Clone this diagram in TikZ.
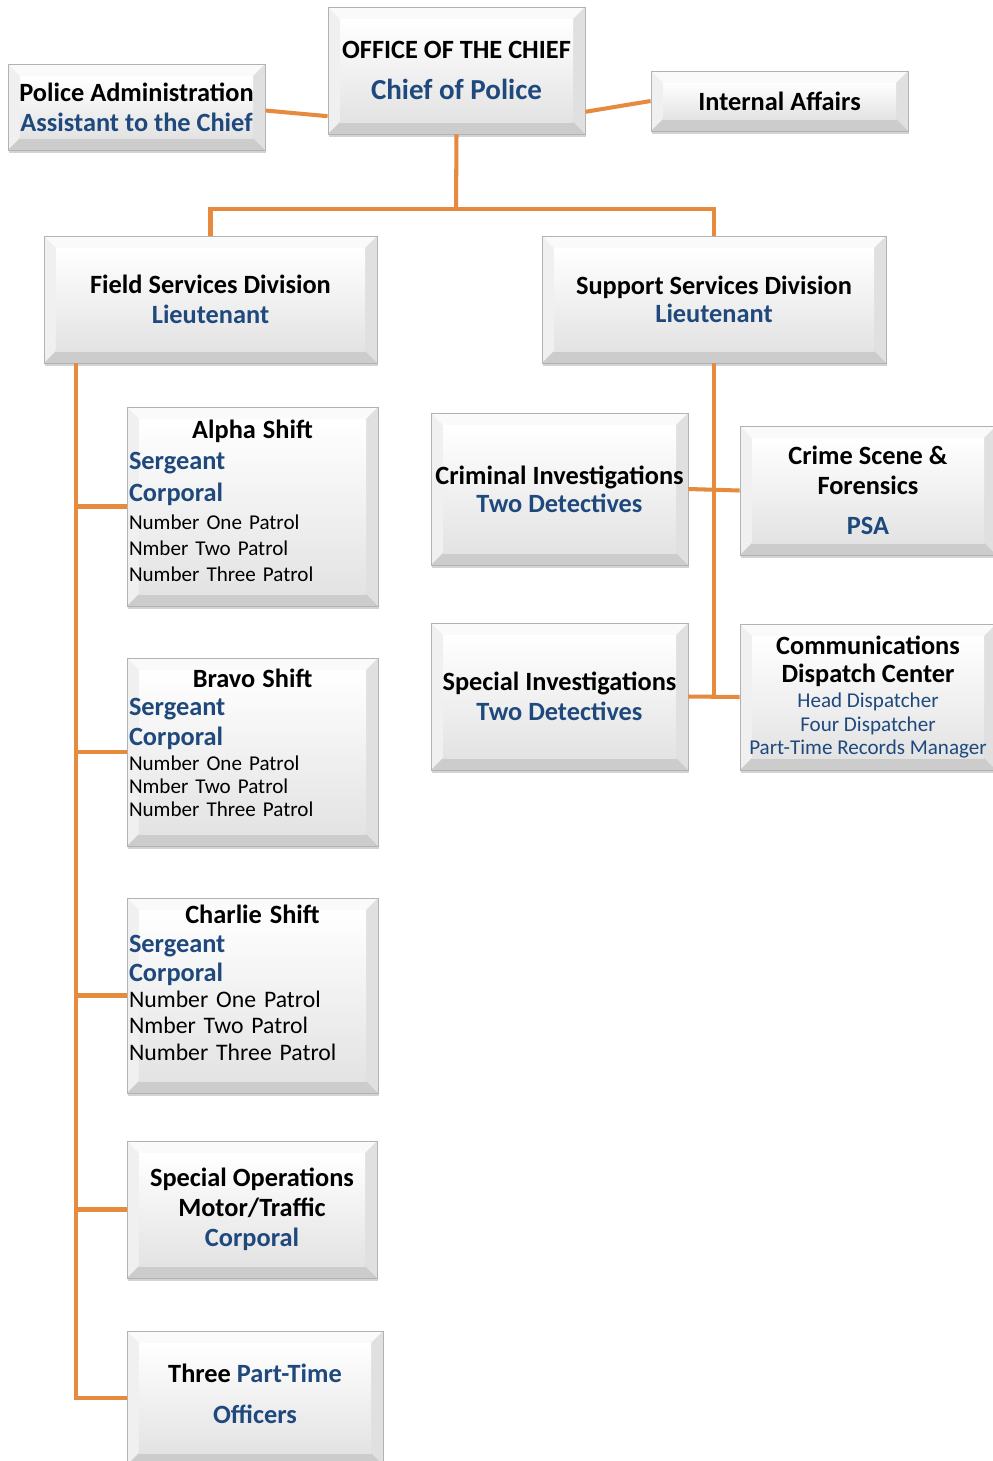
\documentclass[tikz,border=0pt]{standalone}
\usepackage{fontspec}
\setmainfont{Carlito}
\usepackage{xcolor}
\usetikzlibrary{calc,shadows}

\definecolor{rankblue}{HTML}{1F497D}
\definecolor{linkorange}{HTML}{E68A3E}
\newcommand{\bevw}{0.24cm}
\newcommand{\head}[1]{{\bfseries\fontsize{15}{18}\selectfont #1}}
\newcommand{\rank}[1]{{\color{rankblue}\bfseries\fontsize{15}{18}\selectfont #1}}
\newcommand{\duty}[1]{{\color{rankblue}#1}}
\newcommand{\lowpad}[1]{\rule[-#1]{0pt}{0pt}}

\tikzset{
  orgbox/.style={draw=gray!60, line width=0.5pt, top color=white, bottom color=gray!28,
    drop shadow={shadow xshift=0.6pt, shadow yshift=-1.8pt, opacity=0.35},
    inner xsep=0.04cm, inner ysep=0pt, align=center,
    font=\bfseries\fontsize{15}{18}\selectfont,
    path picture={
      \coordinate (pnw) at (path picture bounding box.north west);
      \coordinate (pse) at (path picture bounding box.south east);
      \coordinate (pne) at (pnw -| pse);
      \coordinate (psw) at (pse -| pnw);
      \coordinate (inw) at ($(pnw)+(\bevw,-\bevw)$);
      \coordinate (ine) at ($(pne)+(-\bevw,-\bevw)$);
      \coordinate (ise) at ($(pse)+(-\bevw,\bevw)$);
      \coordinate (isw) at ($(psw)+(\bevw,\bevw)$);
      \fill[white!96!gray] (pnw) -- (pne) -- (ine) -- (inw) -- cycle;
      \fill[gray!12] (pnw) -- (inw) -- (isw) -- (psw) -- cycle;
      \fill[gray!24] (pne) -- (pse) -- (ise) -- (ine) -- cycle;
      \fill[gray!40] (psw) -- (isw) -- (ise) -- (pse) -- cycle;
      \shade[top color=white, bottom color=gray!22] (inw) rectangle (ise);
    }},
  boxdim/.style 2 args={minimum width=#1*0.02cm, minimum height=#2*0.02cm},
  shiftbox/.style 2 args={align=left, text width=4.94cm, font=\mdseries\fontsize{#1}{#2}\selectfont},
  link/.style={draw=linkorange, line width=2.3pt},
}

\begin{document}
\begin{tikzpicture}[x=0.02cm, y=-0.02cm]
	\useasboundingbox (0,0) rectangle (993,1461);
	
	\node[orgbox, boxdim={257}{127}] (chief) at (456.5,70.5)
		{OFFICE OF THE CHIEF\\[5pt]{\color{rankblue}\fontsize{16.5}{20}\selectfont Chief of Police}};
	\node[orgbox, boxdim={257}{86}] (admin) at (136.5,107)
		{Police Administration\\[-1pt]\rank{Assistant to the Chief}};
	\node[orgbox, boxdim={257}{60}] (ia) at (779.5,101) {Internal Affairs};
	
	\node[orgbox, boxdim={333}{127}] (field) at (210.5,299.5)
		{Field Services Division\\[-1pt]\rank{Lieutenant}};
	\node[orgbox, boxdim={344}{127}] (support) at (714,299.5)
		{Support Services Division\\[-2pt]\rank{Lieutenant}};
	
	\node[orgbox, shiftbox={12}{14.7}, boxdim={251}{199}] (alpha) at (252.5,506.5)
		{\makebox[4.94cm]{\head{Alpha Shift}}\\[3pt]
		\rank{Sergeant}\\[4pt]
		\rank{Corporal}\\[1pt]
		Number One Patrol\\
		Nmber Two Patrol\\
		Number Three Patrol\lowpad{7pt}};
	\node[orgbox, shiftbox={12}{13}, boxdim={251}{188}] (bravo) at (252.5,752)
		{\makebox[4.94cm]{\head{Bravo Shift}}\\[3pt]
		\rank{Sergeant}\\[3pt]
		\rank{Corporal}\\[1pt]
		Number One Patrol\\
		Nmber Two Patrol\\
		Number Three Patrol\lowpad{10.5pt}};
	\node[orgbox, shiftbox={13.5}{15}, boxdim={251}{195}] (charlie) at (252.5,995.5)
		{\makebox[4.94cm]{\head{Charlie Shift}}\\[1.5pt]
		\rank{Sergeant}\\[1.5pt]
		\rank{Corporal}\\
		Number One Patrol\\
		Nmber Two Patrol\\
		Number Three Patrol\lowpad{15pt}};
	\node[orgbox, boxdim={250}{137}] (specops) at (252,1209.5)
		{Special Operations\\[-1pt]Motor/Traffic\\[-1pt]\duty{Corporal}};
	\node[orgbox, boxdim={256}{134}] (parttime) at (255,1398)
		{Three \duty{Part-Time}\\[5pt]\duty{Officers}\lowpad{5pt}};
	
	\node[orgbox, boxdim={257}{152}] (crim) at (559.5,489)
		{Criminal Investigations\\[-2pt]\duty{Two Detectives}};
	\node[orgbox, boxdim={257}{147}] (specinv) at (559.5,696.5)
		{Special Investigations\\[-1pt]\duty{Two Detectives}};
	\node[orgbox, boxdim={256}{129}] (crime) at (868,490.5)
		{Crime Scene \&\\[-1pt]Forensics\\[5pt]\duty{PSA}};
	\node[orgbox, font=\mdseries\fontsize{12}{13.3}\selectfont, boxdim={256}{146}] (comms) at (868,697)
		{\head{Communications}\\[3pt]
		\head{Dispatch Center}\\[1pt]
		\duty{Head Dispatcher}\\
		\duty{Four Dispatcher}\\
		\duty{Part-Time Records Manager}};
	
	\draw[link] ([yshift=-2pt]admin.east) -- ([yshift=-26pt]chief.west);
	\draw[link] ([yshift=-23.5pt]chief.east) -- (ia.west);
	\coordinate (split) at (456,209);
	\draw[link] (chief.south) -- (split);
	\draw[link] (field.north) |- (split) -| (support.north);
	
	\coordinate (trunk) at ([xshift=0.64cm]field.south west);
	\draw[link] (trunk) |- (parttime.west);
	\draw[link] (alpha.west) -- (alpha.west -| trunk);
	\draw[link] (bravo.west) -- (bravo.west -| trunk);
	\draw[link] (charlie.west) -- (charlie.west -| trunk);
	\draw[link] (specops.west) -- (specops.west -| trunk);
	
	\draw[link] (support.south) -- (support.south |- comms.west);
	\draw[link] (crim.east) -- (crime.west);
	\draw[link] (specinv.east) -- (comms.west);
	
\end{tikzpicture}
\end{document}
